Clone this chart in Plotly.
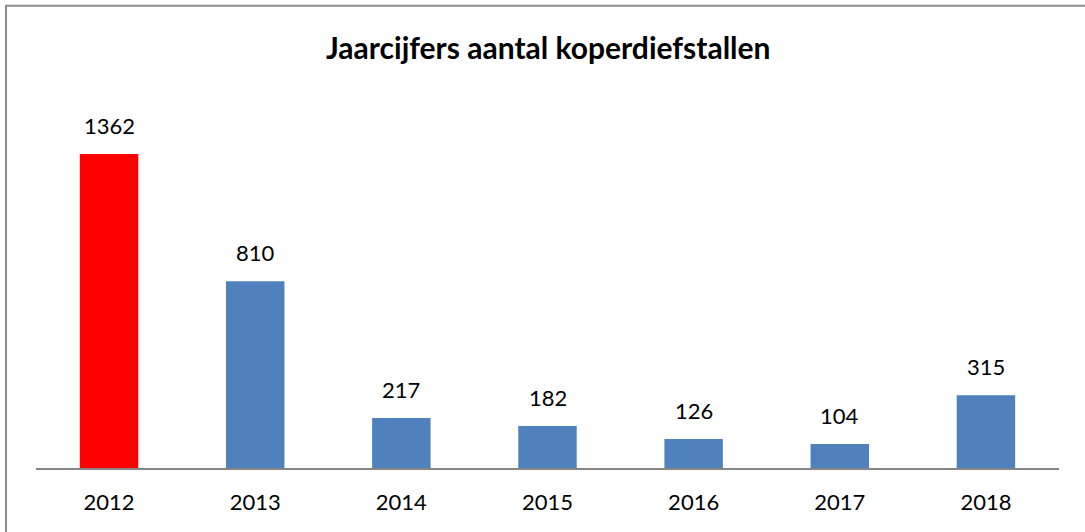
import plotly.graph_objects as go

years = ["2012", "2013", "2014", "2015", "2016", "2017", "2018"]
counts = [1362, 810, 217, 182, 126, 104, 315]
colors = ["#FF0000"] + ["#4F81BD"] * 6

W, H = 1085, 532
ml, mr, mb = 36, 26, 64
ymax = 1600
pxper = 314 / 1362
plot_h = ymax * pxper
mt = H - mb - plot_h
plot_w = W - ml - mr
FONT = "Lato, Liberation Sans, sans-serif"

fig = go.Figure(go.Bar(x=years, y=counts, marker=dict(color=colors, line=dict(width=0)), width=0.40,
                       hoverinfo="skip"))

for i, v in enumerate(counts):
    fig.add_annotation(x=i, y=v, text=str(v), showarrow=False, yanchor="bottom", yshift=13,
                       font=dict(size=22, color="#000000", family=FONT))

# chart border
fig.add_shape(type="rect", xref="paper", yref="paper",
              x0=(6 - ml) / plot_w, x1=(W + 20 - ml) / plot_w,
              y0=-(H + 20 - (H - mb)) / plot_h, y1=((H - mb) - 6) / plot_h,
              line=dict(color="#8C8C8C", width=2), fillcolor="rgba(0,0,0,0)", layer="below")

fig.add_annotation(text="<b>Jaarcijfers aantal koperdiefstallen</b>", xref="paper", yref="paper",
                   x=0.5, y=((H - mb) - 47) / plot_h, yanchor="middle", showarrow=False,
                   font=dict(size=30, color="#000000", family=FONT))

fig.update_layout(
    width=W, height=H,
    margin=dict(l=ml, r=mr, t=mt, b=mb, pad=0, autoexpand=False),
    plot_bgcolor="white", paper_bgcolor="white",
    showlegend=False,
)
fig.update_xaxes(type="category", range=[-0.5, len(years) - 0.5], automargin=False, showline=True,
                 linecolor="#868686", linewidth=2, ticks="", showgrid=False, ticklabelstandoff=14,
                 tickfont=dict(size=22, color="#000000", family=FONT))
fig.update_yaxes(range=[0, ymax], visible=False, showgrid=False, zeroline=False, automargin=False)

fig.write_html("out.html", config={"displayModeBar": False},
               post_script="document.body.style.margin='0';")
